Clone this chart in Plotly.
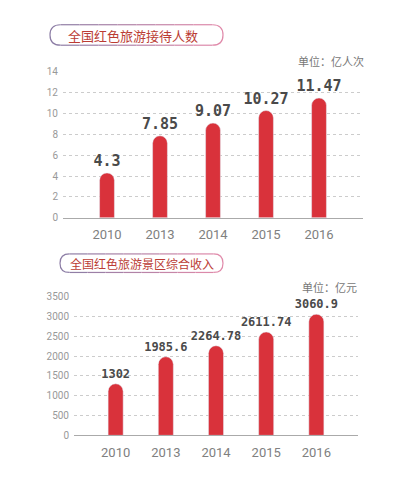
import plotly.graph_objects as go

W, H = 401, 486
OFF = 8  # page body margin shifts the figure by 8px

years = ["2010", "2013", "2014", "2015", "2016"]
visitors = [4.3, 7.85, 9.07, 10.27, 11.47]
visitor_labels = ["4.3", "7.85", "9.07", "10.27", "11.47"]
income = [1302, 1985.6, 2264.78, 2611.74, 3060.9]
income_labels = ["1302", "1985.6", "2264.78", "2611.74", "3060.9"]

bar_red = "#d9323b"
sans = "Roboto, sans-serif"
cjk = "Noto Sans CJK SC"
pill_left = (140, 125, 165)
pill_right = (224, 138, 170)


def px_x(x):
    return (x - OFF) / W


def px_y(y):
    return 1 - (y - OFF) / H


def pt(x, y):
    return f"{px_x(x):.5f},{px_y(y):.5f}"


def mix(t):
    c = [round(a + (b - a) * t) for a, b in zip(pill_left, pill_right)]
    return f"rgb({c[0]},{c[1]},{c[2]})"


def pill_shapes(x0, y0, x1, y1, n=8):
    # rounded outline drawn in pieces so the border fades purple -> pink
    r = (y1 - y0) / 2
    out = []
    base = dict(type="path", xref="paper", yref="paper", layer="below")
    out.append(dict(base, line=dict(color=mix(0), width=1.2),
                    path=f"M{pt(x0 + r, y0)} Q{pt(x0, y0)} {pt(x0, y0 + r)} "
                         f"Q{pt(x0, y1)} {pt(x0 + r, y1)}"))
    out.append(dict(base, line=dict(color=mix(1), width=1.2),
                    path=f"M{pt(x1 - r, y0)} Q{pt(x1, y0)} {pt(x1, y0 + r)} "
                         f"Q{pt(x1, y1)} {pt(x1 - r, y1)}"))
    seg = (x1 - x0 - 2 * r) / n
    for i in range(n):
        a = x0 + r + i * seg
        b = a + seg
        col = mix((i + 0.5) / n)
        out.append(dict(base, line=dict(color=col, width=1.2), path=f"M{pt(a, y0)} L{pt(b, y0)}"))
        out.append(dict(base, line=dict(color=col, width=1.2), path=f"M{pt(a, y1)} L{pt(b, y1)}"))
    return out


fig = go.Figure()

fig.add_trace(go.Bar(
    x=years, y=visitors, text=visitor_labels, textposition="outside",
    constraintext="none", cliponaxis=False, width=0.28,
    outsidetextfont=dict(family="DejaVu Sans Mono", size=15, color="#4a4a4a", weight="bold"),
    marker=dict(color=bar_red, cornerradius="50%"),
    xaxis="x", yaxis="y", showlegend=False, hoverinfo="skip",
))
fig.add_trace(go.Bar(
    x=years, y=income, text=income_labels, textposition="outside",
    constraintext="none", cliponaxis=False, width=0.3,
    outsidetextfont=dict(family="DejaVu Sans Mono", size=12, color="#4a4a4a", weight="bold"),
    marker=dict(color=bar_red, cornerradius="50%"),
    xaxis="x2", yaxis="y2", showlegend=False, hoverinfo="skip",
))

xcommon = dict(
    type="category", range=[-0.83, 4.83], showgrid=False, showline=True,
    linecolor="#aaaaaa", linewidth=1, ticks="", ticklabelstandoff=5,
    tickfont=dict(family=sans, size=13, color="#808080"),
)
ycommon = dict(
    showgrid=True, gridcolor="#cccccc", griddash="dot", gridwidth=1,
    zeroline=False, showline=False, ticks="", ticklabelstandoff=4,
    tickfont=dict(family=sans, size=10, color="#999999"),
)

fig.update_layout(
    width=W, height=H,
    margin=dict(l=0, r=0, t=0, b=0),
    paper_bgcolor="white", plot_bgcolor="white",
    xaxis=dict(xcommon, domain=[px_x(63), px_x(363)], anchor="y"),
    yaxis=dict(ycommon, domain=[px_y(217), px_y(67)], range=[0, 14],
               dtick=2, anchor="x"),
    xaxis2=dict(xcommon, domain=[px_x(74), px_x(358)], anchor="y2"),
    yaxis2=dict(ycommon, domain=[px_y(440), px_y(298)], range=[0, 3500],
                dtick=500, anchor="x2"),
    shapes=pill_shapes(50, 19, 223, 40) + pill_shapes(60, 254, 223, 273),
    annotations=[
        dict(text="全国红色旅游接待人数", x=px_x(133), y=px_y(30), xref="paper", yref="paper",
             xanchor="center", yanchor="middle", showarrow=False,
             font=dict(family=cjk, size=13, color="#bb3c34")),
        dict(text="全国红色旅游景区综合收入", x=px_x(142), y=px_y(263.5), xref="paper", yref="paper",
             xanchor="center", yanchor="middle", showarrow=False,
             font=dict(family=cjk, size=12, color="#bb3c34")),
        dict(text="单位：亿人次", x=px_x(366), y=px_y(56), xref="paper", yref="paper",
             xanchor="right", yanchor="middle", showarrow=False,
             font=dict(family=cjk, size=11, color="#777777")),
        dict(text="单位：亿元", x=px_x(359), y=px_y(288), xref="paper", yref="paper",
             xanchor="right", yanchor="middle", showarrow=False,
             font=dict(family=cjk, size=11, color="#777777")),
    ],
)

fig.write_html("out.html")
